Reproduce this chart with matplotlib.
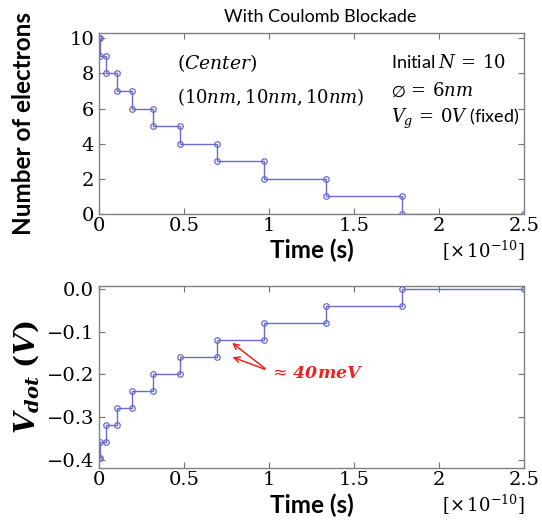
import numpy as np
import matplotlib.pyplot as plt

# event times (x 1e-10 s) and electron count after each event
t_events = [0.0, 0.005, 0.04, 0.104, 0.194, 0.316, 0.478, 0.692, 0.972, 1.335, 1.784]
n_after = [10, 9, 8, 7, 6, 5, 4, 3, 2, 1, 0]
v_after = [-0.395, -0.358, -0.319, -0.279, -0.238, -0.200, -0.160, -0.120, -0.079, -0.039, 0.0]
t_end = 2.5

line_col = '#6a6ac8'
serif = 'DejaVu Serif'
sans = 'Lato'

plt.rcParams['mathtext.fontset'] = 'dejavuserif'


def corners(t, vals, t_last):
    xs, ys = [t[0]], [vals[0]]
    for i in range(1, len(t)):
        xs += [t[i], t[i]]
        ys += [vals[i - 1], vals[i]]
    xs.append(t_last)
    ys.append(vals[-1])
    return xs, ys


def style_axes(ax):
    ax.set_xlim(0, 2.5)
    ax.set_xticks([0, 0.5, 1, 1.5, 2, 2.5])
    ax.set_xticklabels(['0', '0.5', '1', '1.5', '2', '2.5'])
    ax.tick_params(direction='in', top=True, right=True, length=4,
                   color='#707070', labelsize=14)
    ax.tick_params(axis='x', pad=2)
    for lab in ax.get_xticklabels() + ax.get_yticklabels():
        lab.set_family(serif)
    for s in ax.spines.values():
        s.set_color('#808080')
        s.set_linewidth(1.0)
    ax.set_xlabel('Time (s)', fontsize=17.5, fontweight='bold', family=sans, labelpad=3)
    ax.text(1.0, -0.135, r'[$\times\,10^{-10}$]', transform=ax.transAxes,
            ha='right', va='top', fontsize=13, family=serif)


fig = plt.figure(figsize=(5.42, 5.23), dpi=100)
ax1 = fig.add_axes([0.1827, 0.5908, 0.7841, 0.346])
ax2 = fig.add_axes([0.1827, 0.1046, 0.7841, 0.349])

x1, y1 = corners(t_events, n_after, t_end)
ax1.plot(x1, y1, '-o', color=line_col, lw=1.0, ms=4, mfc='none', mec=line_col, mew=0.9)
ax1.set_ylim(0, 10.3)
ax1.set_yticks([0, 2, 4, 6, 8, 10])
style_axes(ax1)
ax1.set_ylabel('Number of electrons', fontsize=17.5, fontweight='bold', family=sans, labelpad=25)
ax1.set_title('With Coulomb Blockade', fontsize=13, family=sans, pad=8, x=0.52)
ax1.text(0.46, 8.6, r'$(Center)$', fontsize=13.5, va='center')
ax1.text(0.46, 6.63, r'$(10nm, 10nm, 10nm)$', fontsize=13, va='center')
ax1.text(1.72, 8.66, r'Initial $N\,=\,10$', fontsize=13, va='center', family=sans)
ax1.text(1.72, 7.0, r'$\varnothing\,=\,6nm$', fontsize=13, va='center')
ax1.text(1.72, 5.42, r'$V_g\,=\,0V$ (fixed)', fontsize=13, va='center', family=sans)

x2, y2 = corners(t_events, v_after, t_end)
ax2.plot(x2, y2, '-o', color=line_col, lw=1.0, ms=4, mfc='none', mec=line_col, mew=0.9)
ax2.set_ylim(-0.42, 0.008)
ax2.set_yticks([-0.4, -0.3, -0.2, -0.1, 0.0])
ax2.set_yticklabels(['\u22120.4', '\u22120.3', '\u22120.2', '\u22120.1', '0.0'])
style_axes(ax2)
ax2.set_ylabel(r'$\mathbfit{V_{dot}}\ \mathbf{(}\mathbfit{V}\mathbf{)}$', fontsize=20, labelpad=4)

# red arrows marking the ~40 meV step
tail = (0.99, -0.19)
for tip in [(0.77, -0.122), (0.77, -0.157)]:
    ax2.annotate('', xy=tip, xytext=tail,
                 arrowprops=dict(arrowstyle='->', color='#ee2222', lw=1.1))
ax2.text(1.0, -0.197, r'$\approx\,\mathbfit{40meV}$', color='#ee2222', fontsize=12.5,
         va='center', ha='left')

fig.savefig('out.png', dpi=100)
